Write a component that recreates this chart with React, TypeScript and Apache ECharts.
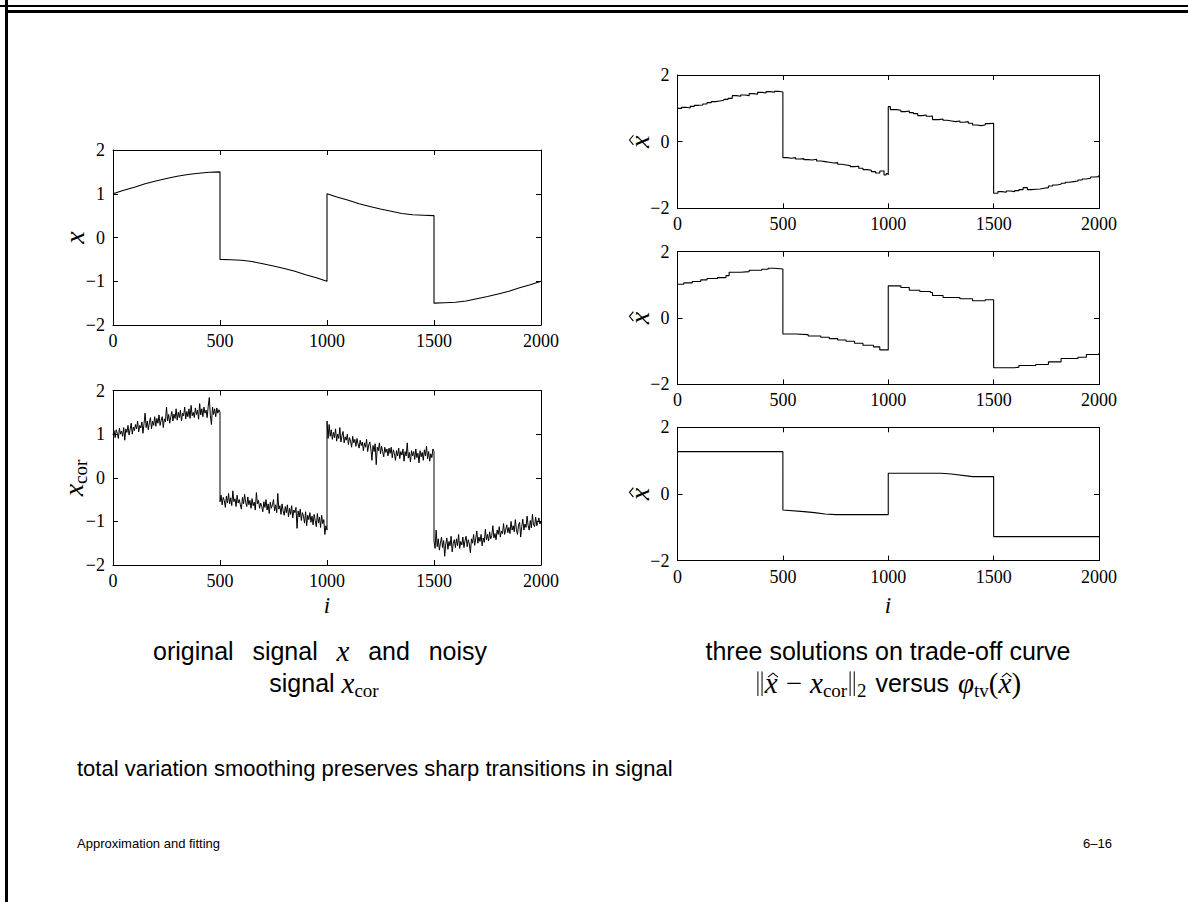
import React, { useEffect, useRef } from "react";
import * as echarts from "echarts";

// ---------- data ----------
const X_MAX = 2000;
const segStarts = [0, 500, 1000, 1500];
// original signal x, every 50 samples per segment (segment start .. start+500)
const xTrueSeg1 = [1.0, 1.08, 1.15, 1.23, 1.29, 1.35, 1.4, 1.44, 1.47, 1.49, 1.5];
const xTrueSeg2 = [-0.5, -0.51, -0.52, -0.55, -0.6, -0.65, -0.71, -0.77, -0.85, -0.92, -1.0];
const xTrueSeg3 = [1.0, 0.92, 0.85, 0.77, 0.71, 0.65, 0.6, 0.55, 0.52, 0.51, 0.5];
const xTrueSeg4 = [-1.5, -1.49, -1.48, -1.45, -1.4, -1.35, -1.29, -1.23, -1.15, -1.08, -1.0];

// noisy signal x_cor, every 5 samples per segment
const xCorSeg1 = [
  0.98, 1.08, 0.92, 1.1, 1.02, 0.9, 1.14, 1.0, 1.07, 0.95,
  1.15, 0.86, 1.12, 1.04, 1.2, 0.98, 1.1, 1.25, 1.0, 1.16,
  1.08, 1.22, 1.12, 1.3, 1.05, 1.2, 1.14, 1.28, 1.02, 1.24,
  1.48, 1.15, 1.3, 1.1, 1.26, 1.38, 1.12, 1.3, 1.2, 1.4,
  1.18, 1.36, 1.25, 1.44, 1.2, 1.32, 1.4, 1.15, 1.35, 1.28,
  1.62, 1.3, 1.45, 1.25, 1.4, 1.52, 1.3, 1.46, 1.36, 1.58,
  1.32, 1.5, 1.38, 1.55, 1.3, 1.48, 1.42, 1.62, 1.35, 1.52,
  1.4, 1.58, 1.36, 1.66, 1.42, 1.5, 1.38, 1.6, 1.45, 1.55,
  1.34, 1.7, 1.44, 1.58, 1.4, 1.62, 1.48, 1.55, 1.38, 1.64,
  1.84, 1.42, 1.22, 1.62, 1.45, 1.58, 1.4, 1.6, 1.48, 1.56,
  1.5,
];
const xCorSeg2 = [
  -0.55, -0.4, -0.62, -0.45, -0.52, -0.68, -0.42, -0.58, -0.36, -0.6,
  -0.46, -0.64, -0.3, -0.55, -0.48, -0.66, -0.4, -0.58, -0.5, -0.62,
  -0.72, -0.45, -0.6, -0.38, -0.56, -0.66, -0.44, -0.62, -0.52, -0.7,
  -0.48, -0.64, -0.56, -0.74, -0.34, -0.6, -0.52, -0.7, -0.58, -0.66,
  -0.78, -0.55, -0.68, -0.5, -0.74, -0.6, -0.82, -0.56, -0.7, -0.62,
  -0.5, -0.76, -0.62, -0.8, -0.36, -0.72, -0.64, -0.84, -0.6, -0.76,
  -0.86, -0.66, -0.8, -0.62, -0.9, -0.7, -0.84, -0.64, -0.92, -0.74,
  -0.8, -0.68, -1.16, -0.76, -0.9, -0.72, -0.98, -0.8, -0.88, -1.04,
  -0.78, -1.1, -0.86, -0.96, -0.8, -1.02, -0.88, -1.08, -0.84, -0.98,
  -1.12, -0.82, -1.04, -0.9, -1.14, -0.86, -1.05, -0.96, -1.3, -1.1,
  -1.2,
];
const xCorSeg3 = [
  1.3, 0.9, 1.22, 0.95, 1.1, 0.88, 1.04, 0.92, 1.12, 0.84,
  1.0, 0.9, 1.15, 0.82, 0.96, 1.06, 0.8, 0.94, 0.86, 1.0,
  0.76, 0.92, 0.84, 0.7, 0.95, 0.8, 0.88, 0.72, 0.9, 0.78,
  0.68, 0.86, 0.74, 0.82, 0.62, 0.8, 0.7, 0.88, 0.6, 0.75,
  0.82, 0.66, 0.4, 0.74, 0.6, 0.78, 0.3, 0.7, 0.62, 0.8,
  0.55, 0.72, 0.6, 0.48, 0.7, 0.58, 0.66, 0.5, 0.68, 0.56,
  0.7, 0.46, 0.64, 0.56, 0.4, 0.62, 0.5, 0.68, 0.44, 0.6,
  0.52, 0.66, 0.38, 0.6, 0.5, 0.8, 0.45, 0.58, 0.36, 0.62,
  0.5, 0.6, 0.42, 0.66, 0.46, 0.56, 0.34, 0.62, 0.48, 0.58,
  0.4, 0.64, 0.5, 0.72, 0.44, 0.6, 0.38, 0.55, 0.46, 0.66,
  0.6,
];
const xCorSeg4 = [
  -1.45, -1.62, -1.2, -1.58, -1.4, -1.66, -1.5, -1.36, -1.6, -1.44,
  -1.8, -1.52, -1.38, -1.64, -1.46, -1.56, -1.34, -1.7, -1.5, -1.42,
  -1.6, -1.4, -1.56, -1.3, -1.62, -1.46, -1.54, -1.36, -1.6, -1.44,
  -1.34, -1.58, -1.42, -1.52, -1.72, -1.4, -1.5, -1.3, -1.55, -1.4,
  -1.22, -1.5, -1.36, -1.46, -1.3, -1.56, -1.38, -1.48, -1.18, -1.42,
  -1.3, -1.45, -1.24, -1.4, -1.32, -1.1, -1.38, -1.28, -1.42, -1.2,
  -1.3, -1.12, -1.36, -1.22, -1.28, -1.05, -1.3, -1.2, -1.08, -1.26,
  -1.14, -1.28, -1.0, -1.2, -1.1, -1.24, -0.96, -1.18, -1.3, -1.08,
  -1.02, -1.36, -1.12, -0.95, -1.2, -1.06, -1.14, -0.88, -1.1, -1.2,
  -0.98, -1.15, -0.84, -1.08, -1.12, -0.9, -1.1, -1.02, -0.92, -1.06,
  -1.0,
];

// solution 1 (least smoothing) breakpoints [i, value]
const sol1 = [
  [0, 1.0], [20, 1.03], [40, 1.01], [60, 1.06], [80, 1.09], [100, 1.1], [120, 1.13], [140, 1.17], [160, 1.2], [180, 1.22], [200, 1.24], [220, 1.27], [240, 1.3], [260, 1.38], [280, 1.36], [300, 1.4], [320, 1.38], [340, 1.44], [360, 1.42], [380, 1.48], [400, 1.46], [420, 1.5], [440, 1.48], [460, 1.51], [480, 1.49], [500, 1.5],
  [500, -0.48], [520, -0.5], [540, -0.48], [560, -0.52], [580, -0.51], [600, -0.54], [620, -0.55], [640, -0.53], [660, -0.58], [680, -0.6], [700, -0.62], [720, -0.64], [740, -0.63], [760, -0.68], [780, -0.7], [800, -0.72], [820, -0.75], [840, -0.74], [860, -0.8], [880, -0.84], [900, -0.86], [920, -0.9], [940, -0.94], [960, -0.88], [980, -1.0], [990, -0.96], [1000, -1.0],
  [1000, 1.05], [1010, 0.96], [1040, 0.94], [1060, 0.9], [1080, 0.92], [1100, 0.87], [1120, 0.84], [1140, 0.78], [1160, 0.8], [1180, 0.76], [1200, 0.77], [1210, 0.66], [1240, 0.68], [1260, 0.64], [1280, 0.62], [1300, 0.6], [1320, 0.62], [1340, 0.58], [1360, 0.6], [1380, 0.55], [1400, 0.5], [1420, 0.48], [1440, 0.5], [1460, 0.54], [1480, 0.55], [1500, 0.53],
  [1500, -1.55], [1520, -1.5], [1540, -1.52], [1560, -1.48], [1580, -1.5], [1600, -1.47], [1620, -1.44], [1640, -1.38], [1660, -1.44], [1680, -1.43], [1700, -1.42], [1720, -1.4], [1740, -1.38], [1760, -1.33], [1780, -1.3], [1800, -1.28], [1820, -1.25], [1840, -1.22], [1860, -1.2], [1880, -1.18], [1900, -1.15], [1920, -1.12], [1940, -1.1], [1960, -1.06], [1980, -1.05], [2000, -1.0],
];
// solution 2 (medium smoothing)
const sol2 = [
  [0, 1.02], [30, 1.06], [70, 1.1], [110, 1.15], [140, 1.19], [190, 1.22], [230, 1.28], [245, 1.38], [300, 1.4], [340, 1.44], [400, 1.47], [430, 1.5], [460, 1.48], [500, 1.48],
  [500, -0.48], [560, -0.5], [620, -0.54], [680, -0.58], [720, -0.62], [760, -0.66], [800, -0.7], [840, -0.76], [880, -0.82], [930, -0.87], [960, -0.96], [1000, -0.96],
  [1000, 0.97], [1060, 0.92], [1100, 0.84], [1150, 0.8], [1200, 0.77], [1210, 0.68], [1260, 0.62], [1340, 0.58], [1400, 0.52], [1460, 0.55], [1500, 0.55],
  [1500, -1.5], [1600, -1.48], [1620, -1.43], [1700, -1.4], [1760, -1.32], [1820, -1.22], [1900, -1.18], [1940, -1.1], [2000, -1.05],
];
// solution 3 (most smoothing)
const sol3 = [
  [0, 1.27], [500, 1.27],
  [500, -0.48], [600, -0.53], [650, -0.56], [700, -0.6], [750, -0.62], [1000, -0.62],
  [1000, 0.62], [1250, 0.62], [1300, 0.6], [1400, 0.52], [1500, 0.52],
  [1500, -1.28], [2000, -1.28],
];

function segPairs(start: number, step: number, vals: number[]) {
  return vals.map((v, k) => [start + k * step, v]);
}
const xTrue = [xTrueSeg1, xTrueSeg2, xTrueSeg3, xTrueSeg4].flatMap((s, j) => segPairs(segStarts[j], 50, s));
const xCor = [xCorSeg1, xCorSeg2, xCorSeg3, xCorSeg4].flatMap((s, j) => segPairs(segStarts[j], 5, s));

// ---------- text helpers ----------
const SERIF = '"Liberation Serif", "DejaVu Serif", serif';
const SANS = '"Liberation Sans", "DejaVu Sans", sans-serif';

type Seg = { t: string; f: string; s: number; it?: boolean; dy?: number; hat?: boolean; sp?: boolean; norm?: boolean; gap?: number };
const fontOf = (g: Seg) => `${g.it ? "italic " : ""}${g.s}px ${g.f}`;
let ctx: CanvasRenderingContext2D | null = null;
function measure(g: Seg) {
  if (g.norm) return g.s * 0.34;
  if (g.gap !== undefined) return g.gap;
  if (!ctx) ctx = document.createElement("canvas").getContext("2d");
  ctx!.font = fontOf(g);
  return ctx!.measureText(g.t).width;
}
function textEl(t: string, font: string, x: number, y: number, align = "left") {
  return {
    type: "text",
    x,
    y,
    silent: true,
    style: { text: t, font, fill: "#000", align, textAlign: align, verticalAlign: "middle", textVerticalAlign: "middle" },
  };
}
function hatEl(cx: number, y: number, s: number) {
  return {
    type: "polyline",
    silent: true,
    shape: { points: [[cx - 0.17 * s, y - 0.2 * s], [cx, y - 0.34 * s], [cx + 0.17 * s, y - 0.2 * s]] },
    style: { stroke: "#000", lineWidth: 1.1, fill: "none" },
  };
}
function vbar(x: number, y: number, s: number) {
  return { type: "line", silent: true, shape: { x1: x, y1: y - 0.4 * s, x2: x, y2: y + 0.45 * s }, style: { stroke: "#000", lineWidth: 1 } };
}
// lay a line of segments; anchor center/left; optional target width (justify over sp segments)
function lineEls(segs: Seg[], x: number, y: number, anchor: "center" | "left" = "center", target?: number) {
  const widths = segs.map(measure);
  let total = widths.reduce((a, b) => a + b, 0);
  const nsp = segs.filter((g) => g.sp).length;
  const extra = target !== undefined && nsp > 0 ? Math.max(0, (target - total) / nsp) : 0;
  total += extra * nsp;
  let cx = anchor === "center" ? x - total / 2 : x;
  const els: any[] = [];
  segs.forEach((g, i) => {
    const yy = y + (g.dy || 0);
    if (g.norm) {
      els.push(vbar(cx + widths[i] * 0.3, yy, g.s), vbar(cx + widths[i] * 0.72, yy, g.s));
    } else if (!g.sp && g.gap === undefined) els.push(textEl(g.t, fontOf(g), cx, yy));
    if (g.hat) els.push(hatEl(cx + widths[i] / 2 + g.s * 0.06, yy, g.s));
    cx += widths[i] + (g.sp ? extra : 0);
  });
  return els;
}

// ---------- layout ----------
const grids = [
  { l: 113, t: 150, w: 428, h: 175, yi: 1 },
  { l: 113, t: 390.5, w: 428, h: 174.5, yi: 1 },
  { l: 677.5, t: 75, w: 421.5, h: 133.3, yi: 2 },
  { l: 677.5, t: 251.7, w: 421.5, h: 132.7, yi: 2 },
  { l: 677.5, t: 427.3, w: 421.5, h: 133.3, yi: 2 },
];

const fmtY = (v: number) => (v < 0 ? "\u2212" + -v : String(v));

export default function App() {
  const ref = useRef<HTMLDivElement>(null);
  useEffect(() => {
    if (!ref.current) return;
    const chart = echarts.init(ref.current, undefined, { renderer: "svg" });
    const line = { color: "#000", width: 1 };
    const xAxes: any[] = [];
    const yAxes: any[] = [];
    grids.forEach((g, gi) => {
      const base = {
        gridIndex: gi,
        type: "value",
        min: 0,
        max: X_MAX,
        interval: 500,
        axisLine: { show: true, onZero: false, lineStyle: line },
        axisTick: { show: true, inside: true, length: 5, lineStyle: line },
        splitLine: { show: false },
      };
      xAxes.push({ ...base, position: "bottom", axisLabel: { color: "#000", fontFamily: SERIF, fontSize: 18, margin: 7, formatter: (v: number) => String(v) } });
      xAxes.push({ ...base, position: "top", axisLabel: { show: false } });
      const ybase = {
        gridIndex: gi,
        type: "value",
        min: -2,
        max: 2,
        interval: g.yi,
        axisLine: { show: true, onZero: false, lineStyle: line },
        axisTick: { show: true, inside: true, length: 5, lineStyle: line },
        splitLine: { show: false },
      };
      yAxes.push({ ...ybase, position: "left", axisLabel: { color: "#000", fontFamily: SERIF, fontSize: 18, margin: 8, formatter: fmtY } });
      yAxes.push({ ...ybase, position: "right", axisLabel: { show: false } });
    });
    const datasets = [xTrue, xCor, sol1, sol2, sol3];
    const steps: any[] = [false, false, "end", "end", false];
    const series = datasets.map((d, gi) => ({
      type: "line",
      xAxisIndex: gi * 2,
      yAxisIndex: gi * 2,
      data: d,
      symbol: "none",
      showSymbol: false,
      step: steps[gi],
      silent: true,
      lineStyle: { color: "#000", width: gi === 1 ? 1 : 1.1 },
    }));

    const CAP = 25;
    const MATH = 29;
    const SUB = 19;
    const mathX = (s: number, extra: Partial<Seg> = {}): Seg => ({ t: "x", f: SERIF, s, it: true, ...extra });
    const sub = (t: string, s = SUB): Seg => ({ t, f: SERIF, s, dy: 7 });
    const sp = (s = CAP): Seg => ({ t: " ", f: SANS, s, sp: true });
    const w = (t: string): Seg => ({ t, f: SANS, s: CAP });
    const gap = (px: number): Seg => ({ t: "", f: SANS, s: CAP, gap: px });
    const norm: Seg = { t: "", f: SERIF, s: MATH, norm: true };

    const graphics: any[] = [
      // slide frame
      { type: "rect", silent: true, shape: { x: 0, y: 5, width: 1188, height: 2 }, style: { fill: "#000" } },
      { type: "rect", silent: true, shape: { x: 5, y: 10, width: 1183, height: 3 }, style: { fill: "#000" } },
      { type: "rect", silent: true, shape: { x: 5, y: 0, width: 3, height: 902 }, style: { fill: "#000" } },
      // y-axis names (rotated)
      { type: "group", x: 74, y: 237.5, rotation: Math.PI / 2, children: lineEls([mathX(28)], 0, 0) },
      { type: "group", x: 73, y: 478, rotation: Math.PI / 2, children: lineEls([mathX(28), sub("cor", 19)], 0, 0) },
      ...[141.7, 318, 494].map((cy) => ({ type: "group", x: 639, y: cy, rotation: Math.PI / 2, children: lineEls([mathX(28, { hat: true })], 0, 0) })),
      // x-axis names
      ...lineEls([{ t: "i", f: SERIF, s: 23, it: true }], 327, 605),
      ...lineEls([{ t: "i", f: SERIF, s: 23, it: true }], 888, 605),
      // captions
      ...lineEls([w("original"), sp(), w("signal"), sp(), mathX(MATH), sp(), w("and"), sp(), w("noisy")], 320, 651, "center", 334),
      ...lineEls([w("signal "), mathX(MATH), sub("cor")], 324, 683),
      ...lineEls([w("three solutions on trade-off curve")], 888, 651),
      ...lineEls(
        [
          norm,
          mathX(MATH, { hat: true }),
          gap(8),
          { t: "\u2212", f: SERIF, s: MATH },
          gap(8),
          mathX(MATH),
          sub("cor"),
          norm,
          sub("2"),
          gap(2),
          w(" versus "),
          gap(2),
          { t: "\u03c6", f: SERIF, s: MATH, it: true },
          sub("tv"),
          { t: "(", f: SERIF, s: MATH },
          mathX(MATH, { hat: true }),
          { t: ")", f: SERIF, s: MATH },
        ],
        888,
        683
      ),
      ...lineEls([{ t: "total variation smoothing preserves sharp transitions in signal", f: SANS, s: 22 }], 77, 768, "left"),
      ...lineEls([{ t: "Approximation and fitting", f: SANS, s: 13 }], 77, 843, "left"),
      textEl("6\u201316", `13px ${SANS}`, 1112, 843, "right"),
    ];

    chart.setOption({
      animation: false,
      backgroundColor: "#fff",
      grid: grids.map((g) => ({ left: g.l, top: g.t, width: g.w, height: g.h })),
      xAxis: xAxes,
      yAxis: yAxes,
      series,
      graphic: graphics,
    });
    return () => chart.dispose();
  }, []);
  return <div ref={ref} style={{ position: "absolute", left: 0, top: 0, width: 1188, height: 902 }} />;
}
